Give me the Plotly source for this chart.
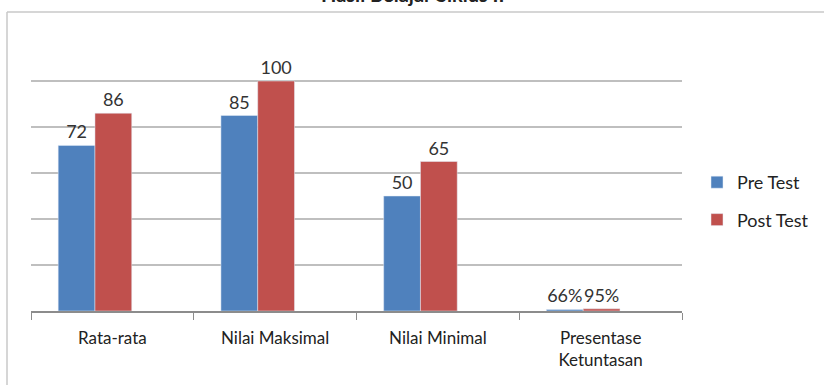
import plotly.graph_objects as go

categories = ["Rata-rata", "Nilai Maksimal", "Nilai Minimal", "Presentase<br>Ketuntasan"]
pre_values = [72, 85, 50, 0.66]
post_values = [86, 100, 65, 0.95]
pre_labels = ["72", "85", "50", "66%"]
post_labels = ["86", "100", "65", "95%"]
title_text = "Hasil Belajar Siklus II"

W, H = 824, 385
L, R, T, B = 31, 142, 35, 74
pw, ph = W - L - R, H - T - B

def px_x(x):
    return (x - L) / pw

def px_y(y):
    return (H - B - y) / ph

BAR_W = 0.226
fig = go.Figure()
fig.add_trace(go.Bar(
    name="Pre Test", x=categories, y=pre_values, text=pre_labels,
    textposition="outside", marker_color="#4F81BD", cliponaxis=False,
    legendgroup="a", width=BAR_W, offset=-0.333,
    textfont=dict(size=18, color="#333333"),
))
fig.add_trace(go.Bar(
    name="Post Test", x=categories, y=post_values, text=post_labels,
    textposition="outside", marker_color="#C0504D", cliponaxis=False,
    legendgroup="b", width=BAR_W, offset=-0.107,
    textfont=dict(size=18, color="#333333"),
))

fig.update_layout(
    width=W, height=H,
    margin=dict(l=L, r=R, t=T, b=B, autoexpand=False),
    paper_bgcolor="white", plot_bgcolor="white",
    font=dict(family="Lato, 'Open Sans', sans-serif", color="#222222"),
    barmode="overlay",
    showlegend=True,
    legend=dict(
        x=px_x(697), y=px_y(164), xanchor="left", yanchor="top",
        font=dict(size=18, color="#222222"), tracegroupgap=11,
        itemwidth=30,
    ),
    xaxis=dict(
        showline=True, linecolor="#8C8C8C", linewidth=1.5,
        ticks="outside", tickson="boundaries", ticklen=7, tickcolor="#8C8C8C",
        tickfont=dict(size=17, color="#222222"), showgrid=False,
        ticklabelstandoff=11,
    ),
    yaxis=dict(
        range=[0, 120], dtick=20, showgrid=True, gridcolor="#BFBFBF", gridwidth=1.5,
        showticklabels=False, zeroline=False, showline=False,
    ),
    shapes=[
        dict(type="line", xref="paper", yref="paper",
             x0=px_x(7), x1=px_x(7), y0=px_y(12), y1=px_y(385),
             line=dict(color="#C8C8C8", width=1.5)),
        dict(type="line", xref="paper", yref="paper",
             x0=px_x(7), x1=px_x(824), y0=px_y(12), y1=px_y(12),
             line=dict(color="#C8C8C8", width=1.5)),
    ],
    annotations=[
        dict(text="<b>" + title_text + "</b>", xref="paper", yref="paper",
             x=px_x(412), y=px_y(8), xanchor="center", yanchor="bottom",
             showarrow=False, font=dict(size=20, color="#222222")),
    ],
)

fig.write_html("out.html")
